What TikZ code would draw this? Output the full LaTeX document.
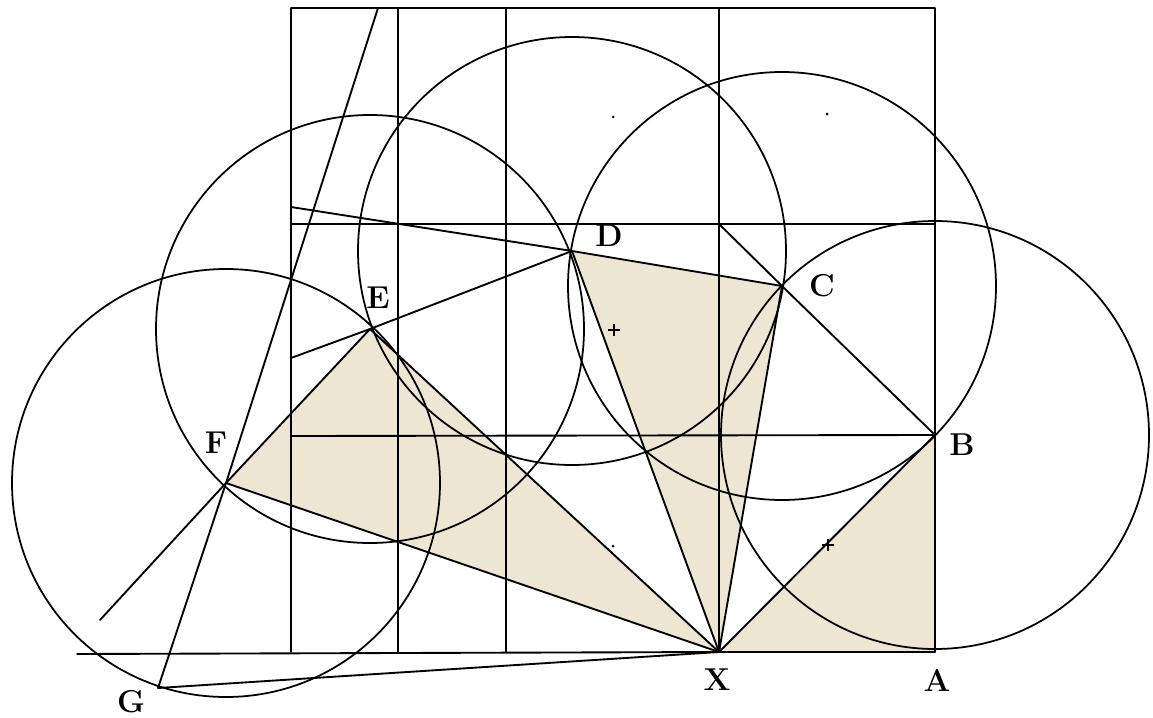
\documentclass[tikz,border=0pt]{standalone}
\definecolor{beige}{RGB}{236,230,211}
\begin{document}
\begin{tikzpicture}[x=0.3mm,y=-0.3mm,
  ln/.style={line width=1.6pt, line cap=round, line join=round},
  shaded/.style={fill=beige},
  circ/.style={line width=1.5pt},
  lbl/.style={font=\bfseries\fontsize{27}{27}\selectfont, inner sep=0pt},
  tick/.style={line width=1pt}]
\useasboundingbox (0,0) rectangle (1153,718);
% main points
\coordinate (X) at (719,652);
\coordinate (A) at (935,652);
\coordinate (B) at (935,435);
\coordinate (C) at (782,286);
\coordinate (D) at (572,251);
\coordinate (E) at (370,329);
\coordinate (F) at (226,483);
\coordinate (G) at (158,688);
% grid coordinates
\coordinate (TL) at (291,8);
\coordinate (TR) at (935,8);
\coordinate (BL) at (291,652);
\coordinate (V1t) at (398,8);   \coordinate (V1b) at (398,652);
\coordinate (V2t) at (506,8);   \coordinate (V2b) at (506,652);
\coordinate (V3t) at (719,8);
\coordinate (H1l) at (291,224); \coordinate (H1r) at (935,224);
\coordinate (H2l) at (291,436);
\coordinate (W) at (77,654);
% extension end points
\coordinate (Pfe) at (100,620);
\coordinate (Pgf) at (378,8);
\coordinate (Pde) at (291,358);
\coordinate (Pcd) at (291,207);
\coordinate (Pbc) at (719,224);
% shaded triangles
\fill[shaded] (X)--(A)--(B)--cycle;
\fill[shaded] (X)--(C)--(D)--cycle;
\fill[shaded] (X)--(E)--(F)--cycle;
% grid
\draw[ln] (BL)--(TL)--(TR)--(A);
\draw[ln] (V1t)--(V1b);
\draw[ln] (V2t)--(V2b);
\draw[ln] (V3t)--(X);
\draw[ln] (H1l)--(H1r);
\draw[ln] (H2l)--(B);
\draw[ln] (W)--(X)--(A);
% circles
\draw[circ] (B) circle[radius=64.2mm];
\draw[circ] (C) circle[radius=64.2mm];
\draw[circ] (D) circle[radius=64.2mm];
\draw[circ] (E) circle[radius=64.2mm];
\draw[circ] (F) circle[radius=64.2mm];
% spokes from X
\draw[ln] (X)--(B);
\draw[ln] (X)--(C);
\draw[ln] (X)--(D);
\draw[ln] (X)--(E);
\draw[ln] (X)--(F);
\draw[ln] (X)--(G);
% outer edges and their extensions
\draw[ln] (Pbc)--(C)--(B);
\draw[ln] (Pcd)--(D)--(C);
\draw[ln] (Pde)--(E)--(D);
\draw[ln] (Pfe)--(F)--(E);
\draw[ln] (G)--(F)--(Pgf);
% small marks
\draw[tick] (608,330)--(620,330) (614,324)--(614,336);
\draw[tick] (822,545)--(834,545) (828,539)--(828,551);
\fill (613,117) circle[radius=0.45mm];
\fill (827,114) circle[radius=0.45mm];
\fill (613,546) circle[radius=0.45mm];
% labels
\node[lbl] (lD) at (609,236) {D};
\node[lbl] (lC) at (822,286) {C};
\node[lbl] (lE) at (378,298) {E};
\node[lbl] (lF) at (216,443) {F};
\node[lbl] (lB) at (962,445) {B};
\node[lbl] (lX) at (717,680) {X};
\node[lbl] (lA) at (937,680) {A};
\node[lbl] (lG) at (131,702) {G};
\end{tikzpicture}
\end{document}
